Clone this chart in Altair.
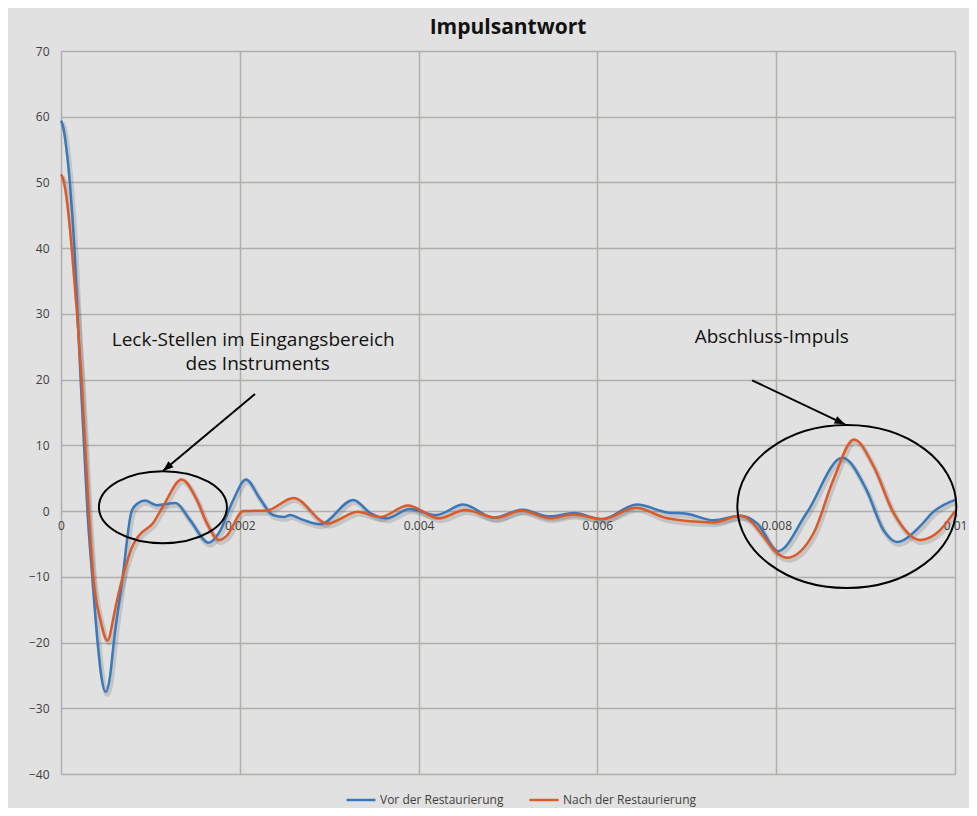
import altair as alt
import pandas as pd

# ---------------- data ----------------
series = ["Vor der Restaurierung", "Nach der Restaurierung"]
colors = ["#3a78bd", "#dc5a28"]

x_vor = [0.0, 0.00002, 0.00004, 0.00006, 0.00008, 0.00010, 0.00015, 0.000185,
         0.00022, 0.000258, 0.000296, 0.00035, 0.00041, 0.00045, 0.00050, 0.00055,
         0.00059, 0.00069, 0.00079, 0.00086, 0.00094, 0.00107, 0.00128, 0.00144,
         0.00165, 0.00178, 0.00192, 0.00207, 0.00222, 0.00237, 0.00250, 0.00256,
         0.00270, 0.00290, 0.00327, 0.00346, 0.00364, 0.00390, 0.00420, 0.00450,
         0.00484, 0.00516, 0.00547, 0.00574, 0.00605, 0.00644, 0.00678, 0.00700,
         0.00730, 0.00760, 0.00779, 0.00802, 0.00834, 0.00874, 0.00901, 0.00920,
         0.00935, 0.00961, 0.00975, 0.01]
y_vor = [59.4, 58.7, 57.3, 55.2, 52.8, 49.8, 40.0, 30.0,
         20.0, 10.0, 0.0, -10.0, -20.0, -25.0, -27.5, -25.0,
         -20.0, -10.0, 0.0, 1.2, 1.6, 0.9, 1.25, -1.3,
         -4.8, -3.0, 1.5, 4.8, 2.0, -0.6, -0.9, -0.6,
         -1.3, -2.0, 1.7, -0.3, -1.1, 0.3, -0.6, 1.0,
         -1.0, 0.2, -0.8, -0.3, -1.25, 1.0, -0.2, -0.4,
         -1.4, -0.7, -1.9, -6.1, -0.3, 8.1, 3.2, -2.9,
         -4.7, -2.3, -0.2, 1.7]

x_nach = [0.0, 0.00002, 0.00004, 0.00007, 0.00010, 0.00012, 0.00018, 0.00023,
          0.00027, 0.00031, 0.00036, 0.00044, 0.00052, 0.00059, 0.00062, 0.00069,
          0.00081, 0.00088, 0.00103, 0.00114, 0.00135, 0.00152, 0.00163, 0.00177,
          0.00185, 0.00204, 0.00230, 0.00260, 0.00298, 0.00332, 0.00357, 0.00388,
          0.00423, 0.00452, 0.00487, 0.00515, 0.00547, 0.00573, 0.00606, 0.00643,
          0.00678, 0.00730, 0.00760, 0.00812, 0.00842, 0.00864, 0.00887, 0.00909,
          0.00931, 0.00961, 0.00980, 0.01]
y_nach = [51.2, 50.7, 49.6, 46.8, 43.0, 40.0, 30.0, 20.0,
          10.0, 0.0, -10.0, -16.5, -19.7, -16.0, -14.0, -10.0,
          -5.0, -3.6, -1.8, 0.7, 4.8, 1.7, -1.8, -4.4,
          -3.8, 0.0, 0.1, 2.0, -1.9, -0.1, -0.9, 0.85,
          -1.1, 0.15, -1.0, 0.1, -1.1, -0.5, -1.2, 0.5,
          -1.1, -1.7, -0.7, -7.1, -3.3, 4.8, 10.9, 6.8,
          -0.2, -4.4, -3.3, 0.0]

x_ticks = [0, 0.002, 0.004, 0.006, 0.008, 0.01]
y_ticks = [-40, -30, -20, -10, 0, 10, 20, 30, 40, 50, 60, 70]

title_text = "Impulsantwort"
note_texts = ["Leck-Stellen im Eingangsbereich", "des Instruments", "Abschluss-Impuls"]
note_x = [0.00215, 0.00220, 0.00795]
note_y = [26.0, 22.4, 26.5]

# annotation geometry (data coordinates)
arrow_x = [0.00217, 0.00773]
arrow_y = [17.8, 19.9]
arrow_x2 = [0.00114, 0.00877]
arrow_y2 = [6.1, 13.2]
arrow_angle = [230, 115]
ell_x = [0.00114, 0.00879]
ell_y = [0.6, 0.7]

# ---------------- build ----------------
df = pd.concat([
    pd.DataFrame({"x": x_vor, "y": y_vor, "serie": series[0]}),
    pd.DataFrame({"x": x_nach, "y": y_nach, "serie": series[1]}),
], ignore_index=True)

FONT = "Open Sans"
GRID = "#b1aeab"
BG = "#e1e1e1"

xs = alt.Scale(domain=[0, 0.01], nice=False, zero=False)
ys = alt.Scale(domain=[-40, 70], nice=False, zero=False)

xaxis = alt.Axis(values=x_ticks, format="~g", title=None, domain=False, ticks=False,
                 grid=True, gridColor=GRID, gridWidth=1.5, offset=-263,
                 labelFont=FONT, labelFontSize=12, labelColor="#404040",
                 labelPadding=9, labelFlush=False, labelOverlap=False)
yaxis = alt.Axis(values=y_ticks, format="d", title=None, domain=False, ticks=False,
                 grid=True, gridColor=GRID, gridWidth=1.5,
                 labelFont=FONT, labelFontSize=12, labelColor="#404040",
                 labelPadding=12, labelFlush=False, labelOverlap=False)

base = alt.Chart(df)

shadow = base.mark_line(interpolate="monotone", strokeWidth=5, color="#505050",
                        opacity=0.2, xOffset=1.5, yOffset=2.5).encode(
    x=alt.X("x:Q", scale=xs, axis=xaxis),
    y=alt.Y("y:Q", scale=ys, axis=yaxis),
    detail="serie:N",
)

color_enc = alt.Color(
    "serie:N",
    scale=alt.Scale(domain=series, range=colors),
    legend=alt.Legend(title=None, orient="none", direction="horizontal",
                      legendX=284, legendY=733, symbolType="stroke",
                      symbolSize=841, symbolStrokeWidth=2.5, symbolOpacity=1,
                      labelFont=FONT, labelFontSize=12, labelColor="#404040",
                      labelOffset=3, columnPadding=20),
)

line_vor = base.transform_filter(alt.datum.serie == series[0]).mark_line(
    interpolate="monotone", strokeWidth=2.5).encode(
    x=alt.X("x:Q", scale=xs), y=alt.Y("y:Q", scale=ys), color=color_enc)
line_nach = base.transform_filter(alt.datum.serie == series[1]).mark_line(
    interpolate="monotone", strokeWidth=2.5).encode(
    x=alt.X("x:Q", scale=xs), y=alt.Y("y:Q", scale=ys), color=color_enc)

notes_df = pd.DataFrame({"x": note_x, "y": note_y, "t": note_texts})
notes = alt.Chart(notes_df).mark_text(font=FONT, fontSize=19, color="#111111",
                                      align="center", baseline="middle").encode(
    x=alt.X("x:Q", scale=xs), y=alt.Y("y:Q", scale=ys), text="t:N")

arrows_df = pd.DataFrame({"x": arrow_x, "y": arrow_y, "x2": arrow_x2, "y2": arrow_y2,
                          "a": arrow_angle})
arrow_lines = alt.Chart(arrows_df).mark_rule(color="black", strokeWidth=2).encode(
    x=alt.X("x:Q", scale=xs), y=alt.Y("y:Q", scale=ys), x2="x2:Q", y2="y2:Q")
head_path = "M 0 0 L -0.75 2 L 0.75 2 Z"
arrow_heads = alt.Chart(arrows_df).mark_point(
    shape=head_path, filled=True, color="black", opacity=1, size=110, strokeWidth=0).encode(
    x=alt.X("x2:Q", scale=xs), y=alt.Y("y2:Q", scale=ys),
    angle=alt.Angle("a:Q", scale=None))


def ellipse_path(r):
    k = 0.5523
    kr = round(k * r, 4)
    return (f"M -1 0 C -1 {-kr} {-k} {-r} 0 {-r} C {k} {-r} 1 {-kr} 1 0 "
            f"C 1 {kr} {k} {r} 0 {r} C {-k} {r} -1 {kr} -1 0 Z")


ell_df = pd.DataFrame({"x": ell_x, "y": ell_y})
ell1 = alt.Chart(ell_df.iloc[[0]]).mark_point(
    shape=ellipse_path(0.5625), size=16384, filled=False, stroke="black",
    strokeWidth=2, opacity=1).encode(x=alt.X("x:Q", scale=xs), y=alt.Y("y:Q", scale=ys))
ell2 = alt.Chart(ell_df.iloc[[1]]).mark_point(
    shape=ellipse_path(0.744), size=47961, filled=False, stroke="black",
    strokeWidth=2, opacity=1).encode(x=alt.X("x:Q", scale=xs), y=alt.Y("y:Q", scale=ys))

chart = alt.layer(shadow, line_vor, line_nach, ell1, ell2, arrow_lines, arrow_heads, notes).properties(
    width=894, height=723,
    background=BG,
    padding={"left": 53, "top": 43, "right": 14, "bottom": 34},
    autosize=alt.AutoSizeParams(type="none"),
    title=alt.Title(title_text, font=FONT, fontSize=21, fontWeight="bold",
                    color="#111111", anchor="middle", offset=7),
).configure_view(strokeWidth=0, fill=BG)

chart.save("out.html", embed_options={"renderer": "svg", "actions": False})
